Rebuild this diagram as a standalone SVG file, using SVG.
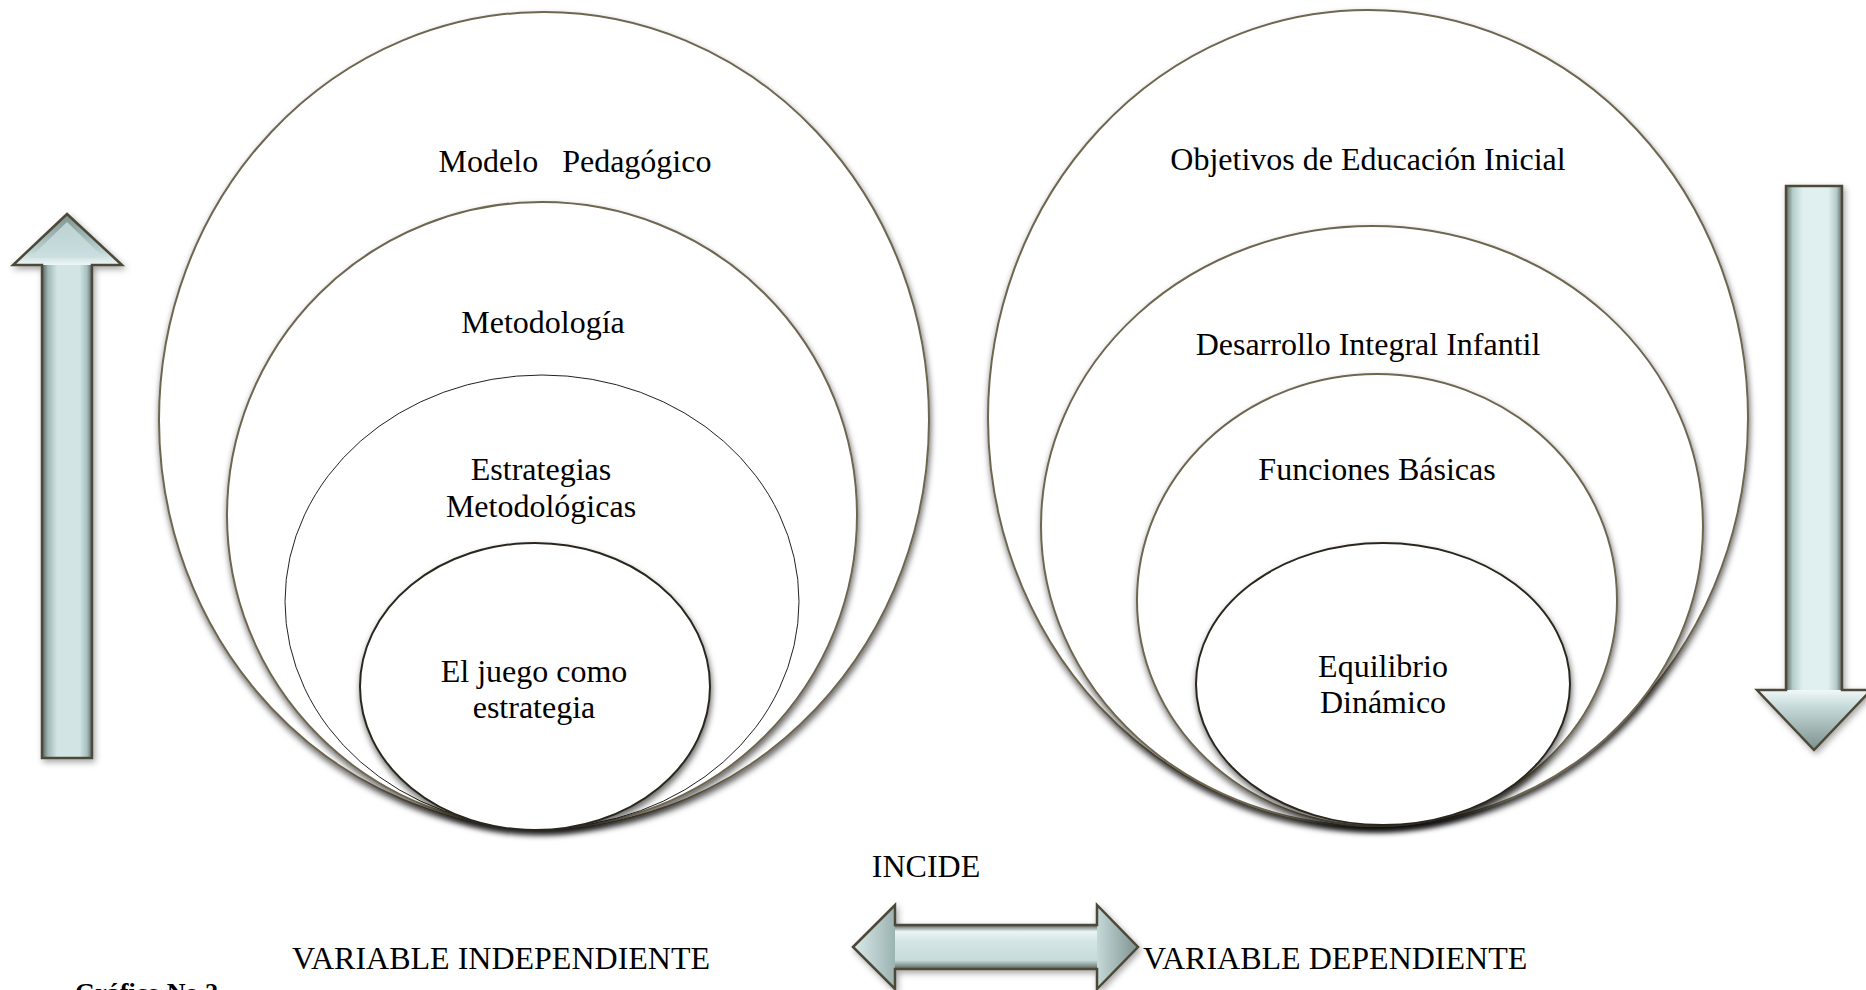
<svg xmlns="http://www.w3.org/2000/svg" width="1866" height="990" viewBox="0 0 1866 990">
<style>
.t{font-family:"Liberation Serif","Times New Roman",serif;font-size:32px;fill:#000;text-anchor:middle}
.ring{fill:#fff;stroke:#6e6650;stroke-width:2;filter:url(#sh)}
.thin{fill:#fff;stroke:#222;stroke-width:1}
.dark{fill:#fff;stroke:#2a271e;stroke-width:2;filter:url(#sh)}
.aout{fill:none;stroke:#4d4838;stroke-width:2.5;stroke-linejoin:miter}
</style>
<defs>
<filter id="sh" x="-10%" y="-10%" width="120%" height="125%">
<feDropShadow dx="1" dy="4" stdDeviation="3" flood-color="#000" flood-opacity="0.6"/>
</filter>
<filter id="ash" x="-20%" y="-10%" width="140%" height="120%">
<feDropShadow dx="2" dy="3" stdDeviation="3" flood-color="#000" flood-opacity="0.35"/>
</filter>
<linearGradient id="gv" x1="0" y1="0" x2="1" y2="0">
<stop offset="0" stop-color="#55605c"/>
<stop offset="0.12" stop-color="#9fb7b6"/>
<stop offset="0.3" stop-color="#d2e4e4"/>
<stop offset="0.75" stop-color="#d2e4e4"/>
<stop offset="0.9" stop-color="#a7bfbe"/>
<stop offset="1" stop-color="#5b6662"/>
</linearGradient>
<linearGradient id="gvd" x1="0" y1="0" x2="1" y2="0">
<stop offset="0" stop-color="#5c6864"/>
<stop offset="0.12" stop-color="#b3cccb"/>
<stop offset="0.3" stop-color="#e0f0f0"/>
<stop offset="0.75" stop-color="#e0f0f0"/>
<stop offset="0.9" stop-color="#b4cbca"/>
<stop offset="1" stop-color="#606b67"/>
</linearGradient>
<linearGradient id="gh" x1="0" y1="0" x2="0" y2="1">
<stop offset="0" stop-color="#55605c"/>
<stop offset="0.15" stop-color="#e9f4f4"/>
<stop offset="0.4" stop-color="#d2e4e4"/>
<stop offset="0.8" stop-color="#c8dcdc"/>
<stop offset="1" stop-color="#5b6662"/>
</linearGradient>
<linearGradient id="headU" x1="0" y1="0" x2="0" y2="1">
<stop offset="0" stop-color="#7d908d"/>
<stop offset="0.7" stop-color="#b9d0cf"/>
<stop offset="1" stop-color="#eef7f7"/>
</linearGradient>
<linearGradient id="headD" x1="0" y1="1" x2="0" y2="0">
<stop offset="0" stop-color="#7d908d"/>
<stop offset="0.7" stop-color="#c3d8d7"/>
<stop offset="1" stop-color="#f0f8f8"/>
</linearGradient>
<linearGradient id="headL" x1="0" y1="0" x2="1" y2="0">
<stop offset="0" stop-color="#dbeaea"/>
<stop offset="1" stop-color="#9bb3b2"/>
</linearGradient>
<linearGradient id="headR" x1="1" y1="0" x2="0" y2="0">
<stop offset="0" stop-color="#7f9290"/>
<stop offset="1" stop-color="#c4d9d8"/>
</linearGradient>
</defs>
<rect width="1866" height="990" fill="#fff"/>

<g id="modelo-pedagogico">
<ellipse class="ring" cx="544" cy="420" rx="385" ry="408"/>
<text class="t" x="575" y="172" xml:space="preserve">Modelo   Pedagógico</text>
</g>
<g id="metodologia">
<ellipse class="ring" cx="542" cy="515" rx="315" ry="313"/>
<text class="t" x="543" y="333">Metodología</text>
</g>
<g id="estrategias">
<ellipse class="thin" cx="542" cy="601.5" rx="257" ry="226.5"/>
<text class="t" x="541" y="480">Estrategias</text>
<text class="t" x="541" y="517">Metodológicas</text>
</g>
<g id="juego">
<ellipse class="dark" cx="535" cy="686.5" rx="175" ry="143.5"/>
<text class="t" x="534" y="682">El juego como</text>
<text class="t" x="534" y="718">estrategia</text>
</g>

<g id="objetivos">
<ellipse class="ring" cx="1368" cy="418" rx="380" ry="408"/>
<text class="t" x="1368" y="170">Objetivos de Educación Inicial</text>
</g>
<g id="desarrollo">
<ellipse class="ring" cx="1372" cy="526" rx="331" ry="300"/>
<text class="t" x="1368" y="355">Desarrollo Integral Infantil</text>
</g>
<g id="funciones">
<ellipse class="ring" cx="1377" cy="600" rx="240" ry="226"/>
<text class="t" x="1377" y="480">Funciones Básicas</text>
</g>
<g id="equilibrio">
<ellipse class="dark" cx="1383" cy="684" rx="187" ry="141"/>
<text class="t" x="1383" y="677">Equilibrio</text>
<text class="t" x="1383" y="713">Dinámico</text>
</g>

<g id="connectors">
<g id="arrow-up" filter="url(#ash)">
<rect x="42" y="264" width="50" height="494" fill="url(#gv)"/>
<polygon points="67,214 13,265 122,265" fill="url(#headU)"/>
<polygon points="67,222 30,258 104,258" fill="#c9dede" opacity="0.8"/>
<path class="aout" d="M67,214 L122,265 L92,265 L92,758 L42,758 L42,265 L13,265 Z"/>
</g>
<g id="arrow-down" filter="url(#ash)">
<rect x="1786" y="186" width="56" height="505" fill="url(#gvd)"/>
<polygon points="1757,690 1871,690 1814,750" fill="url(#headD)"/>
<path class="aout" d="M1786,186 L1842,186 L1842,690 L1871,690 L1814,750 L1757,690 L1786,690 Z"/>
</g>
<g id="arrow-both" filter="url(#ash)">
<rect x="895" y="925" width="202" height="44" fill="url(#gh)"/>
<polygon points="853,947 895,905 895,989" fill="url(#headL)"/>
<polygon points="1138,947 1097,905 1097,989" fill="url(#headR)"/>
<path class="aout" d="M853,947 L895,905 L895,925 L1097,925 L1097,905 L1138,947 L1097,989 L1097,969 L895,969 L895,989 Z"/>
</g>
</g>

<g id="labels">
<text class="t" x="926" y="877">INCIDE</text>
<text class="t" x="292" y="969" style="text-anchor:start">VARIABLE INDEPENDIENTE</text>
<text class="t" x="1143" y="969" style="text-anchor:start">VARIABLE DEPENDIENTE</text>
<text x="75" y="1001" style="font-family:'Liberation Serif','Times New Roman',serif;font-size:26px;font-weight:bold">Gráfico No 2</text>
</g>
</svg>
